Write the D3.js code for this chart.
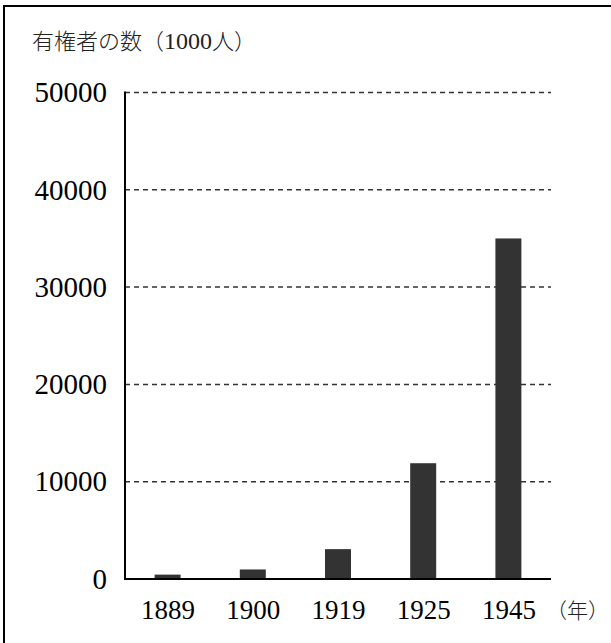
<!DOCTYPE html>
<html>
<head>
<meta charset="utf-8">
<script src="https://cdn.jsdelivr.net/npm/d3@7"></script>
<style>
  body { margin: 0; background: #fff; }
  svg { display: block; }
</style>
</head>
<body>
<svg></svg>
<script>
let years = ["1889", "1900", "1919", "1925", "1945"]
let voters = [450, 980, 3070, 11900, 35000]
let yTicks = [0, 10000, 20000, 30000, 40000, 50000]

let width = 611
let height = 643

let plotLeft = 125
let plotRight = 551
let plotTop = 92.5
let plotBottom = 579

let svg = d3.select("svg")
    .attr("width", width)
    .attr("height", height)

// frame (only top and left sides visible)
svg.append("rect")
    .attr("x", 4)
    .attr("y", 6)
    .attr("width", 800)
    .attr("height", 800)
    .attr("fill", "none")
    .attr("stroke", "#000")
    .attr("stroke-width", 2)

let xScale = d3.scalePoint()
    .domain(years)
    .range([plotLeft, plotRight])
    .padding(0.5)

let yScale = d3.scaleLinear()
    .domain([0, 50000])
    .range([plotBottom, plotTop])

let barWidth = xScale.step() * 0.305

// dashed grid lines
svg.append("g")
    .selectAll("line")
    .data(yTicks.slice(1))
    .enter()
    .append("line")
    .attr("x1", plotLeft)
    .attr("x2", plotRight)
    .attr("y1", (d) => yScale(d))
    .attr("y2", (d) => yScale(d))
    .attr("stroke", "#333")
    .attr("stroke-width", 1.5)
    .attr("stroke-dasharray", "5,4")

// bars
svg.append("g")
    .selectAll("rect")
    .data(voters)
    .enter()
    .append("rect")
    .attr("x", (d, i) => xScale(years[i]) - barWidth / 2)
    .attr("width", barWidth)
    .attr("y", (d) => yScale(d))
    .attr("height", (d) => plotBottom - yScale(d))
    .attr("fill", "#333")

// axes
let yAxis = d3.axisLeft(yScale)
    .tickValues(yTicks)
    .tickSize(0)
    .tickPadding(18)
    .tickFormat(d3.format("d"))

let yG = svg.append("g")
    .attr("transform", "translate(" + plotLeft + ",0)")
    .call(yAxis)
yG.select(".domain").remove()
yG.selectAll("text")
    .style("font-family", "'Liberation Serif', serif")
    .style("font-size", "29px")
    .attr("fill", "#000")

let xAxis = d3.axisBottom(xScale)
    .tickSize(0)
    .tickPadding(21)

let xG = svg.append("g")
    .attr("transform", "translate(0," + plotBottom + ")")
    .call(xAxis)
xG.select(".domain").remove()
xG.selectAll("text")
    .style("font-family", "'Liberation Serif', serif")
    .style("font-size", "27px")
    .attr("fill", "#000")

svg.append("line")
    .attr("x1", plotLeft)
    .attr("x2", plotLeft)
    .attr("y1", plotTop - 1)
    .attr("y2", plotBottom + 1)
    .attr("stroke", "#000")
    .attr("stroke-width", 2)

svg.append("line")
    .attr("x1", plotLeft - 1)
    .attr("x2", plotRight)
    .attr("y1", plotBottom)
    .attr("y2", plotBottom)
    .attr("stroke", "#000")
    .attr("stroke-width", 2)

// titles
let title = svg.append("text")
    .attr("x", 32)
    .attr("y", 49)
    .style("font-family", "'Noto Sans CJK JP', sans-serif")
    .style("font-size", "22px")
    .style("font-weight", "300")
    .attr("fill", "#222")
title.append("tspan").text("有権者の数（")
title.append("tspan").text("1000")
    .style("font-family", "'Liberation Serif', serif")
    .style("font-size", "24px")
title.append("tspan").text("人）")

svg.append("text")
    .attr("x", 546)
    .attr("y", 618)
    .text("（年）")
    .style("font-family", "'Noto Sans CJK JP', sans-serif")
    .style("font-size", "21px")
    .style("font-weight", "300")
    .attr("fill", "#222")
</script>
</body>
</html>
